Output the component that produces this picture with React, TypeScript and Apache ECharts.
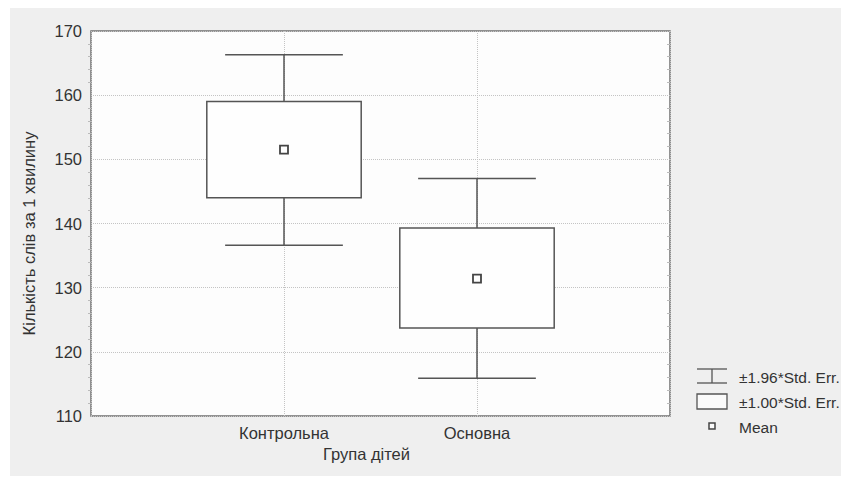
import React, { useEffect, useRef } from "react";
import * as echarts from "echarts";

const categories = ["Контрольна", "Основна"];
const means = [151.5, 131.4];
const seLow = [144.0, 123.7];
const seHigh = [159.0, 139.3];
const ciLow = [136.6, 115.9];
const ciHigh = [166.3, 147.0];
const yTicks = [110, 120, 130, 140, 150, 160, 170];
const legendLabels = ["±1.96*Std. Err.", "±1.00*Std. Err.", "Mean"];

const FONT = "'Liberation Sans', Arial, sans-serif";
const LINE = "#555555";
const TEXT = "#333333";

export default function App() {
  const ref = useRef<HTMLDivElement>(null);
  useEffect(() => {
    if (!ref.current) return;
    const chart = echarts.init(ref.current, undefined, { renderer: "svg" });
    const data = categories.map((_, i) => [i + 1, means[i], seLow[i], seHigh[i], ciLow[i], ciHigh[i]]);
    chart.setOption({
      animation: false,
      backgroundColor: "#efefef",
      textStyle: { fontFamily: FONT },
      grid: {
        left: 81,
        top: 23,
        width: 579,
        height: 385,
        show: true,
        backgroundColor: "#fdfdfd",
        borderColor: "#707070",
        borderWidth: 1.5,
      },
      xAxis: {
        type: "value",
        min: 0,
        max: 3,
        interval: 1,
        name: "Група дітей",
        nameLocation: "middle",
        nameGap: 27,
        nameTextStyle: { fontSize: 16.5, color: TEXT, fontFamily: FONT, padding: [0, 28, 0, 0] },
        axisLine: { show: false },
        axisTick: { show: false },
        axisLabel: {
          fontSize: 16.5,
          color: TEXT,
          margin: 8,
          fontFamily: FONT,
          formatter: (v: number) => (v >= 1 && v <= categories.length ? categories[v - 1] : ""),
        },
        splitLine: { show: true, lineStyle: { color: "#c4c4c4", type: "dotted", width: 1 } },
      },
      yAxis: [
        {
          type: "value",
          min: yTicks[0],
          max: yTicks[yTicks.length - 1],
          interval: 10,
          name: "Кількість слів за 1 хвилину",
          nameLocation: "middle",
          nameGap: 54,
          nameTextStyle: { fontSize: 16.5, color: TEXT, fontFamily: FONT, padding: [0, 20, 0, 0] },
          axisLine: { show: false },
          axisTick: { show: false },
          minorTick: { show: true, splitNumber: 5, length: 3, lineStyle: { color: "#bbbbbb" } },
          axisLabel: { fontSize: 16.5, color: TEXT, margin: 9, fontFamily: FONT },
          splitLine: { show: true, lineStyle: { color: "#c4c4c4", type: "dotted", width: 1 } },
        },
        {
          type: "value",
          position: "right",
          min: yTicks[0],
          max: yTicks[yTicks.length - 1],
          interval: 10,
          axisLine: { show: false },
          axisTick: { show: false },
          axisLabel: { show: false },
          minorTick: { show: true, splitNumber: 5, length: -3, lineStyle: { color: "#bbbbbb" } },
          splitLine: { show: false },
        },
      ],
      series: [
        {
          type: "custom",
          data,
          encode: { x: 0, y: [1, 2, 3, 4, 5] },
          renderItem: (params: any, api: any) => {
            const x = api.value(0);
            const slot = api.size([1, 0])[0];
            const boxW = slot * 0.8;
            const capW = slot * 0.61;
            const pMean = api.coord([x, api.value(1)]);
            const pSeL = api.coord([x, api.value(2)]);
            const pSeH = api.coord([x, api.value(3)]);
            const pCiL = api.coord([x, api.value(4)]);
            const pCiH = api.coord([x, api.value(5)]);
            const cx = pMean[0];
            const ls = { stroke: LINE, lineWidth: 1.5, fill: null };
            return {
              type: "group",
              children: [
                { type: "line", shape: { x1: cx, y1: pCiH[1], x2: cx, y2: pSeH[1] }, style: ls },
                { type: "line", shape: { x1: cx, y1: pSeL[1], x2: cx, y2: pCiL[1] }, style: ls },
                { type: "line", shape: { x1: cx - capW / 2, y1: pCiH[1], x2: cx + capW / 2, y2: pCiH[1] }, style: ls },
                { type: "line", shape: { x1: cx - capW / 2, y1: pCiL[1], x2: cx + capW / 2, y2: pCiL[1] }, style: ls },
                {
                  type: "rect",
                  shape: { x: cx - boxW / 2, y: pSeH[1], width: boxW, height: pSeL[1] - pSeH[1] },
                  style: { stroke: LINE, lineWidth: 1.5, fill: "#fefefe" },
                },
                {
                  type: "rect",
                  shape: { x: cx - 4, y: pMean[1] - 4, width: 8, height: 8 },
                  style: { stroke: "#444", lineWidth: 1.8, fill: "#fefefe" },
                },
              ],
            };
          },
        },
      ],
      graphic: [
        { type: "line", shape: { x1: 687, y1: 361, x2: 717, y2: 361 }, style: { stroke: LINE, lineWidth: 1.3 } },
        { type: "line", shape: { x1: 687, y1: 375, x2: 717, y2: 375 }, style: { stroke: LINE, lineWidth: 1.3 } },
        { type: "line", shape: { x1: 702, y1: 361, x2: 702, y2: 375 }, style: { stroke: LINE, lineWidth: 1.3 } },
        {
          type: "rect",
          shape: { x: 687, y: 386, width: 30, height: 15 },
          style: { stroke: LINE, lineWidth: 1.3, fill: "#fafafa" },
        },
        {
          type: "rect",
          shape: { x: 699, y: 415, width: 6, height: 6 },
          style: { stroke: "#444", lineWidth: 1.5, fill: "#fafafa" },
        },
        ...legendLabels.map((t, i) => ({
          type: "text",
          x: 729,
          y: [369, 394, 419][i],
          style: {
            text: t,
            fill: TEXT,
            font: `15.5px ${FONT}`,
            textVerticalAlign: "middle",
            textAlign: "left",
          },
        })),
      ],
    });
    return () => chart.dispose();
  }, []);
  return <div ref={ref} style={{ width: 839, height: 468, marginLeft: 2 }} />;
}
